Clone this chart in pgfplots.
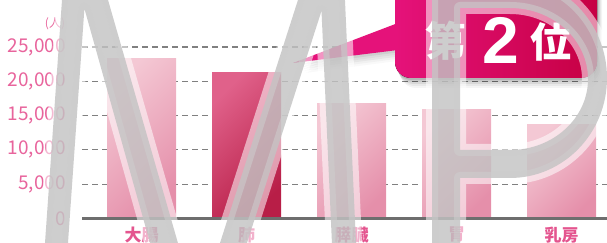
\documentclass[border=0pt]{standalone}
\usepackage{pgfplots}
\pgfplotsset{compat=1.18}
\usepackage{fontspec}
\setmainfont{Noto Sans CJK JP}
\newfontfamily\numfont{Liberation Sans}
\definecolor{tickpink}{HTML}{E8649C}
\definecolor{catpink}{HTML}{E4558F}
\definecolor{lightA}{HTML}{F4C8D4}
\definecolor{lightB}{HTML}{E58FAA}
\definecolor{darkA}{HTML}{E0618A}
\definecolor{darkB}{HTML}{B81E47}
\definecolor{calloutA}{HTML}{E5127A}
\definecolor{calloutB}{HTML}{C60043}
\definecolor{wmgray}{HTML}{C3C3C3}
\definecolor{gridgray}{HTML}{808080}
\definecolor{basegray}{HTML}{6E6E6E}
\begin{document}
\begin{tikzpicture}
\useasboundingbox (0pt,0pt) rectangle (607pt,243pt);
\clip (0pt,0pt) rectangle (607pt,243pt);
\begin{axis}[
  at={(82pt,24.5pt)}, anchor=south west,
  scale only axis, width=525pt, height=171.5pt,
  xmin=-0.5667, xmax=4.4333, ymin=0, ymax=25000,
  clip=false,
  axis line style={draw=none},
  major tick length=0pt,
  xtick={0,1,2,3,4},
  xticklabels={大腸,肺,膵臓,胃,乳房},
  ytick={0,5000,10000,15000,20000,25000},
  scaled y ticks=false,
  /pgf/number format/1000 sep={,},
  /pgf/number format/assume math mode=true,
  yticklabel style={font=\fontsize{19}{22}\selectfont, text=tickpink, anchor=east, inner sep=0pt, xshift=-16pt},
  xticklabel style={font=\fontsize{17}{20}\selectfont\bfseries, text=catpink, anchor=north, inner sep=0pt, yshift=-8pt},
  ymajorgrids,
  grid style={gridgray, line width=1.2pt, dash pattern=on 6pt off 4pt},
  barstyle/.style={ybar, bar width=69pt, bar shift=0pt, draw=none},
]
\addplot[barstyle, top color=lightA, bottom color=lightB, shading angle=45] coordinates {(0,23350)};
\addplot[barstyle, top color=darkA, bottom color=darkB, shading angle=45] coordinates {(1,21350)};
\addplot[barstyle, top color=lightA, bottom color=lightB, shading angle=45] coordinates {(2,16700)};
\addplot[barstyle, top color=lightA, bottom color=lightB, shading angle=45] coordinates {(3,15950)};
\addplot[barstyle, top color=lightA, bottom color=lightB, shading angle=45] coordinates {(4,13650)};
\draw[basegray, line width=3pt] (axis cs:-0.5667,0) -- (axis cs:4.4333,0);
\end{axis}
% unit
\node[text=tickpink, font=\fontsize{12}{14}\selectfont, inner sep=0pt] at (55pt,219pt) {(人)};
% callout shadow
\foreach \d/\o in {2/0.10,4/0.08,6/0.07,8/0.05,10/0.04}{
  \fill[black, opacity=\o, rounded corners=16pt] ([xshift=0.5*\d pt, yshift=-\d pt]395pt,270pt) -- ([xshift=0.5*\d pt, yshift=-\d pt]395pt,165pt) -- ([xshift=0.5*\d pt, yshift=-\d pt]597pt,165pt) -- ([xshift=0.5*\d pt, yshift=-\d pt]597pt,270pt) -- cycle;
  \fill[black, opacity=0.6*\o] ([xshift=0.5*\d pt, yshift=-\d pt]400pt,220pt) -- ([xshift=0.5*\d pt, yshift=-\d pt]300pt,180pt) -- ([xshift=0.5*\d pt, yshift=-\d pt]400pt,193pt) -- cycle;
}
% callout
\fill[left color=calloutA, right color=calloutB, rounded corners=16pt] (395pt,270pt) -- (395pt,165pt) -- (597pt,165pt) -- (597pt,270pt) -- cycle;
\fill[calloutA] (398pt,220pt) -- (293pt,180pt) -- (398pt,193pt) -- cycle;
\node[text=white, font=\fontsize{41}{41}\selectfont\bfseries, inner sep=0pt] at (446pt,202pt) {第};
\node[text=white, font=\numfont\fontsize{66}{66}\selectfont\bfseries, inner sep=0pt] at (501pt,203pt) {2};
\node[text=white, font=\fontsize{41}{41}\selectfont\bfseries, inner sep=0pt] at (551pt,201pt) {位};
% watermark white outline
\draw[white, opacity=0.55, line width=12pt, line join=round]
  (64.1pt,273pt) -- (99.4pt,273pt) -- (188.6pt,-37pt) -- (160.4pt,-37pt) -- (84.4pt,234.4pt) -- (65.4pt,-37pt) -- (42.4pt,-37pt) -- cycle
  (307.6pt,273pt) -- (343.6pt,273pt) -- (357.7pt,-37pt) -- (333.6pt,-37pt) -- (321.5pt,232.1pt) -- (235.1pt,-37pt) -- (208.1pt,-37pt) -- cycle
  (432pt,265pt) -- (432pt,-37pt) -- (460pt,-37pt) -- (460pt,65pt) -- (510pt,65pt) arc[start angle=-90, end angle=90, x radius=97pt, y radius=100pt] -- cycle
  (460pt,93pt) -- (510pt,93pt) arc[start angle=-90, end angle=90, x radius=78pt, y radius=71pt] -- (460pt,235pt) -- cycle;
% watermark gray
\fill[wmgray, opacity=0.82, even odd rule]
  (64.1pt,273pt) -- (99.4pt,273pt) -- (188.6pt,-37pt) -- (160.4pt,-37pt) -- (84.4pt,234.4pt) -- (65.4pt,-37pt) -- (42.4pt,-37pt) -- cycle
  (307.6pt,273pt) -- (343.6pt,273pt) -- (357.7pt,-37pt) -- (333.6pt,-37pt) -- (321.5pt,232.1pt) -- (235.1pt,-37pt) -- (208.1pt,-37pt) -- cycle
  (432pt,265pt) -- (432pt,-37pt) -- (460pt,-37pt) -- (460pt,65pt) -- (510pt,65pt) arc[start angle=-90, end angle=90, x radius=97pt, y radius=100pt] -- cycle
  (460pt,93pt) -- (510pt,93pt) arc[start angle=-90, end angle=90, x radius=78pt, y radius=71pt] -- (460pt,235pt) -- cycle;
\end{tikzpicture}
\end{document}
